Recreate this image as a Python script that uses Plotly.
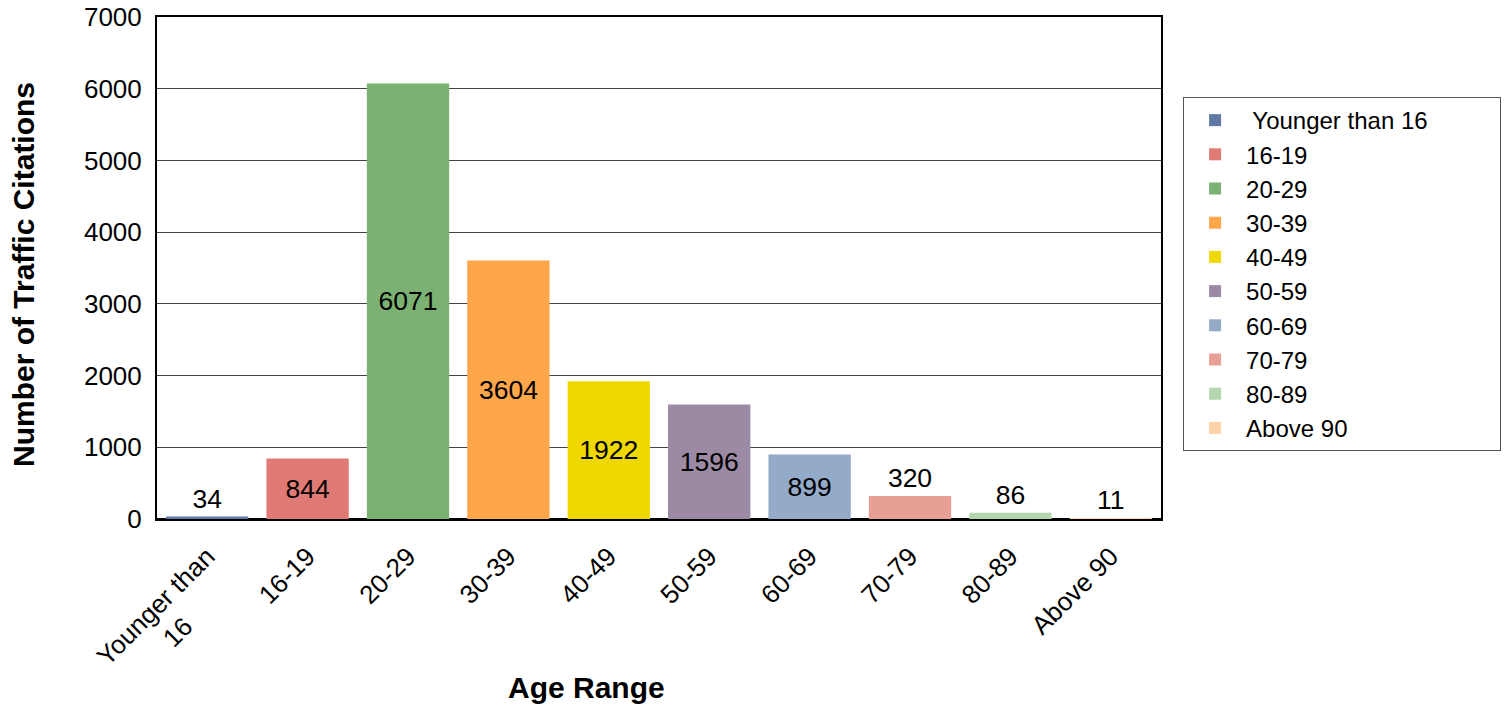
import plotly.graph_objects as go

categories = ["Younger than 16", "16-19", "20-29", "30-39", "40-49",
              "50-59", "60-69", "70-79", "80-89", "Above 90"]
tick_labels = ["Younger than<br>16" + "\u00a0" * 9, "16-19", "20-29", "30-39", "40-49",
               "50-59", "60-69", "70-79", "80-89", "Above 90"]
legend_names = [" Younger than 16" + "\u00a0" * 10, "16-19", "20-29", "30-39", "40-49",
                "50-59", "60-69", "70-79", "80-89", "Above 90"]
citations = [34, 844, 6071, 3604, 1922, 1596, 899, 320, 86, 11]
colors = ["#6079A4", "#E07A74", "#7BB273", "#FDA64A", "#EFD800",
          "#9C8AA5", "#93AAC8", "#E8A096", "#B5D5AF", "#FFD3A7"]

FONT = "Liberation Sans, Arial, sans-serif"

fig = go.Figure()
for cat, name, val, col in zip(categories, legend_names, citations, colors):
    fig.add_trace(go.Bar(
        x=[cat], y=[val], name=name,
        marker=dict(color=col, line=dict(width=0)),
        text=[str(val)], textposition="auto",
        insidetextanchor="middle",
        textfont=dict(family=FONT, size=26.5, color="black"),
        outsidetextfont=dict(family=FONT, size=26.5, color="black"),
        insidetextfont=dict(family=FONT, size=26.5, color="black"),
        cliponaxis=False,
    ))

fig.update_layout(
    width=1510, height=710,
    margin=dict(l=157, r=349, t=17, b=191, autoexpand=False),
    paper_bgcolor="white", plot_bgcolor="white",
    barmode="overlay", bargap=0.18,
    font=dict(family=FONT, size=26, color="black"),
    legend=dict(
        x=1.022, y=0.8406, xanchor="left", yanchor="top",
        bordercolor="#555555", borderwidth=1,
        font=dict(family=FONT, size=24, color="black"),
        itemwidth=52, tracegroupgap=0,
    ),
    showlegend=True,
    annotations=[
        dict(text="<b>Age Range</b>", xref="paper", yref="paper",
             x=0.428, y=-0.335, xanchor="center", yanchor="middle",
             showarrow=False, font=dict(family=FONT, size=30, color="black")),
        dict(text="<b>Number of Traffic Citations</b>", xref="paper", yref="paper",
             x=-0.1335, y=0.488, xanchor="center", yanchor="middle", textangle=-90,
             showarrow=False, font=dict(family=FONT, size=30, color="black")),
    ],
)

fig.update_xaxes(
    categoryorder="array", categoryarray=categories,
    tickvals=categories, ticktext=tick_labels,
    tickangle=-45, tickfont=dict(family=FONT, size=26, color="black"),
    showline=True, linecolor="black", linewidth=2, mirror=True,
    ticks="", showgrid=False, automargin=False, ticklabelstandoff=10,
    ticklabeloverflow="allow",
)
fig.update_yaxes(
    range=[0, 7000], dtick=1000, tickformat="d",
    tickfont=dict(family=FONT, size=26, color="black"),
    showline=True, linecolor="black", linewidth=2, mirror=True,
    showgrid=True, gridcolor="#444444", gridwidth=1,
    zeroline=True, zerolinecolor="black", zerolinewidth=3,
    ticks="", ticklabelstandoff=8, automargin=False,
    ticklabeloverflow="allow",
)

fig.write_html("out.html", config={"displayModeBar": False},
               post_script="document.body.style.margin='0';")
